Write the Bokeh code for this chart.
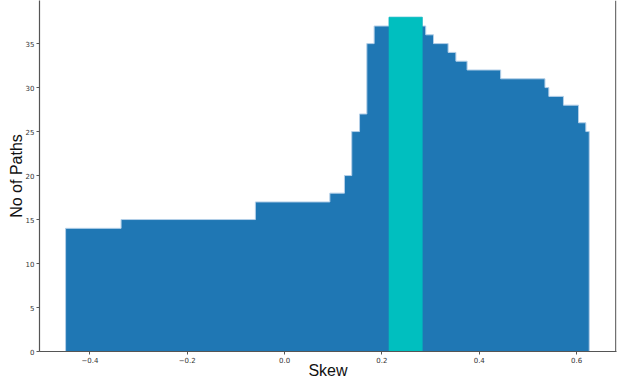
from bokeh.plotting import figure
from bokeh.models import FixedTicker, ColumnDataSource, Range1d, Span
from bokeh.embed import file_html
from bokeh.resources import INLINE

# Step edges (skew) and number of paths for each step
edges = [-0.450, -0.336, -0.060, 0.093, 0.123, 0.138, 0.154, 0.169, 0.184, 0.2145,
         0.283, 0.290, 0.306, 0.336, 0.352, 0.375, 0.444, 0.535, 0.543, 0.573,
         0.604, 0.619, 0.626]
paths = [14, 15, 17, 18, 20, 25, 27, 35, 37, 38, 37, 36, 35, 34, 33, 32, 31, 30,
         29, 28, 26, 25]
highlight = [False] * 9 + [True] + [False] * 12

x_ticks = [-0.4, -0.2, 0.0, 0.2, 0.4, 0.6]
x_tick_labels = ["\u22120.4", "\u22120.2", "0.0", "0.2", "0.4", "0.6"]
y_ticks = [0, 5, 10, 15, 20, 25, 30, 35]

BLUE = "#1f77b4"
CYAN = "#00bfbf"
X_START, X_END = -0.5036, 0.682

left = edges[:-1]
right = edges[1:]

p = figure(width=622, height=381, output_backend="svg", toolbar_location=None,
           x_range=Range1d(X_START, X_END), y_range=Range1d(0, 39.9),
           min_border_left=39, min_border_right=6, min_border_top=0, min_border_bottom=0)
p.outline_line_color = None
p.xgrid.visible = False
p.ygrid.visible = False
p.background_fill_color = "white"
p.border_fill_color = "white"

# blue step profile as one filled shape (no seams between steps)
outline_x = [edges[0]] + [e for e in edges for _ in (0, 1)][1:-1] + [edges[-1]]
outline_y = [0] + [h for h in paths for _ in (0, 1)] + [0]
p.patch(outline_x, outline_y, fill_color=BLUE, line_color="#b3cfe8", line_width=1.0)

# highlighted bin on top
hi = ColumnDataSource(dict(left=[l for l, h in zip(left, highlight) if h],
                           right=[r for r, h in zip(right, highlight) if h],
                           top=[t for t, h in zip(paths, highlight) if h]))
p.quad(left="left", right="right", top="top", bottom=0, source=hi,
       fill_color=CYAN, line_color=CYAN, line_width=0.5)

axis_col = "#555555"
for ax in (p.xaxis[0], p.yaxis[0]):
    ax.axis_line_color = axis_col
    ax.axis_line_width = 1.2
    ax.major_tick_line_color = axis_col
    ax.major_tick_in = 0
    ax.major_tick_out = 3
    ax.minor_tick_line_color = None
    ax.major_label_text_font = "DejaVu Sans"
    ax.major_label_text_font_size = "7px"
    ax.major_label_text_color = "#333333"
    ax.major_label_standoff = 2
    ax.axis_label_text_font = "Liberation Sans"
    ax.axis_label_text_font_size = "16px"
    ax.axis_label_text_font_style = "normal"
    ax.axis_label_text_color = "#111111"

p.xaxis[0].ticker = FixedTicker(ticks=x_ticks)
p.xaxis[0].major_label_overrides = {t: l for t, l in zip(x_ticks, x_tick_labels)}
p.xaxis[0].axis_label = "Skew"
p.xaxis[0].major_label_standoff = 2
p.xaxis[0].axis_label_standoff = -4
p.yaxis[0].ticker = FixedTicker(ticks=y_ticks)
p.yaxis[0].axis_label = "No of Paths"
p.yaxis[0].axis_label_standoff = -2

p.add_layout(Span(location=X_END - 0.0015, dimension="height",
                  line_color=axis_col, line_width=1.2))

open("out.html", "w").write(file_html(p, INLINE))
